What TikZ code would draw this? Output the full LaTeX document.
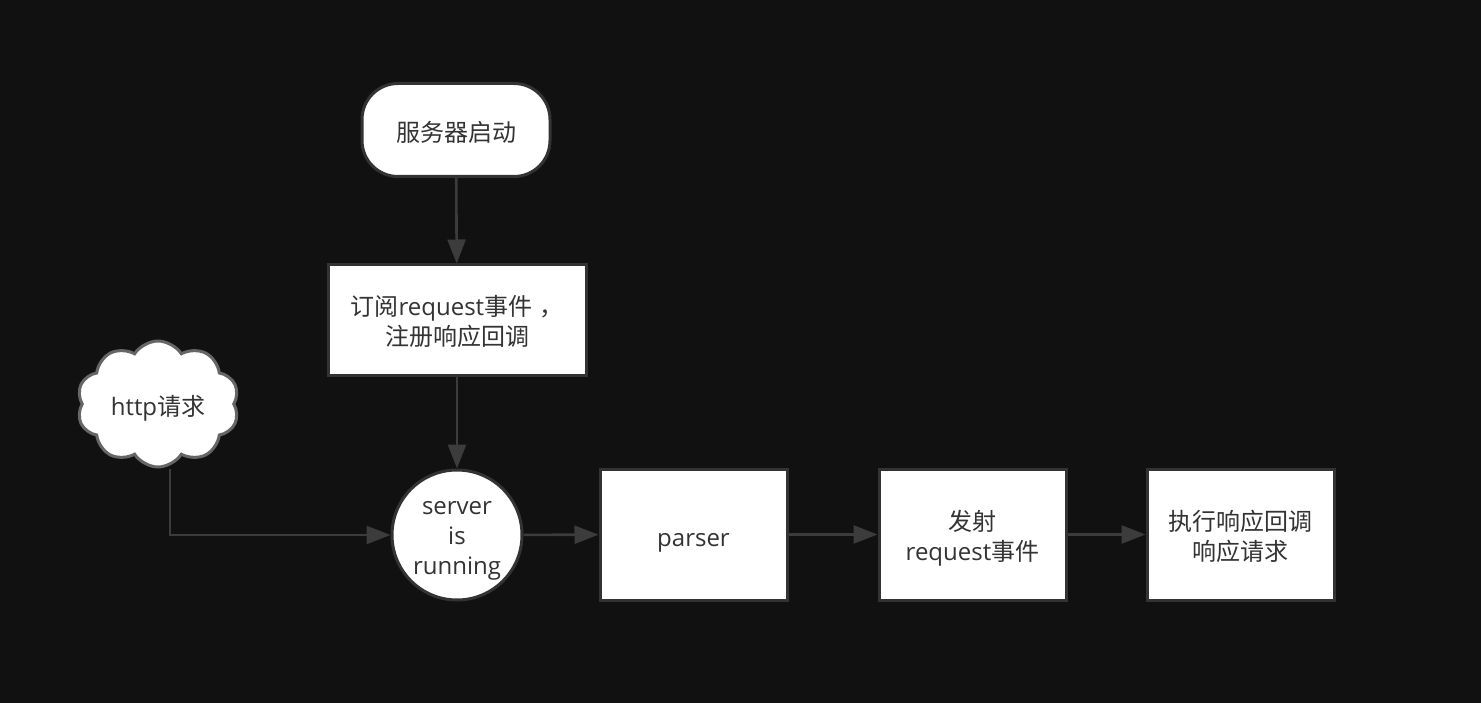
\documentclass[tikz,border=0pt]{standalone}
\usepackage{fontspec}
\setmainfont{Open Sans}
\newfontfamily\cjk{Noto Sans CJK SC}
\usetikzlibrary{arrows.meta,shapes.symbols}
\definecolor{bg}{HTML}{111111}
\definecolor{edge}{HTML}{333333}
\definecolor{ink}{HTML}{333333}
\definecolor{wire}{HTML}{3C3C3C}
% fixed height and depth for one-line labels, so they all sit alike
\newcommand\linestrut{\rule[-0.24em]{0pt}{1.47em}}
% height of the first line in labels of several lines
\newcommand\firstline[1]{\rule{0pt}{#1}}
\begin{document}
\begin{tikzpicture}[x=1pt,y=-1pt,
  base/.style={draw=edge, line width=3pt, fill=white, text=ink,
    font=\fontsize{24}{30}\selectfont, align=center, inner sep=0pt,
    execute at begin node=\linestrut, execute at end node=\linestrut},
  box/.style={base, rectangle, minimum width=#1, minimum height=131pt},
  startbox/.style={base, rectangle, rounded corners=36pt, minimum width=188pt, minimum height=93pt},
  roundnode/.style={base, circle, minimum size=130pt},
  cloudnode/.style={base, cloud, cloud puffs=10, cloud puff arc=115, aspect=1.25,
    minimum width=162pt, minimum height=126pt, draw=edge!75},
  flow/.style={draw=wire, line width=2.6pt, -{Triangle[length=24pt,width=18pt]}}
]
\fill[bg] (0,0) rectangle (1481,703);
\useasboundingbox (0,0) rectangle (1481,703);

\node[startbox] (start) at (456,130) {{\cjk 服务器启动}};
\node[base, rectangle, minimum width=258pt, minimum height=110pt] (sub) at (457,320)
  {\firstline{1.12em}{\cjk 订阅}request{\cjk 事件}\hspace{0.3em}{\cjk ，}\\{\cjk 注册响应回调}};
\node[roundnode] (srv) at (457,535) {\firstline{1.03em}server\\is\\running};
\node[cloudnode] (http) at (158,404) {http{\cjk 请求}};
\node[box=187pt] (parser) at (693.5,534.5) {parser};
\node[box=187pt] (emit) at (972.5,534.5) {\firstline{1.12em}{\cjk 发射}\\request{\cjk 事件}};
\node[box=187pt] (exec) at (1240.5,534.5) {\firstline{1.12em}{\cjk 执行响应回调}\\{\cjk 响应请求}};

\coordinate (bend) at (170,535);

\draw[flow] (start) -- (sub);
\draw[flow] (sub) -- (srv);
\draw[flow] (http.south -| bend) -- (bend) -- (srv);
\draw[flow] (srv) -- (parser);
\draw[flow] (parser) -- (emit);
\draw[flow] (emit) -- (exec);
\end{tikzpicture}
\end{document}
